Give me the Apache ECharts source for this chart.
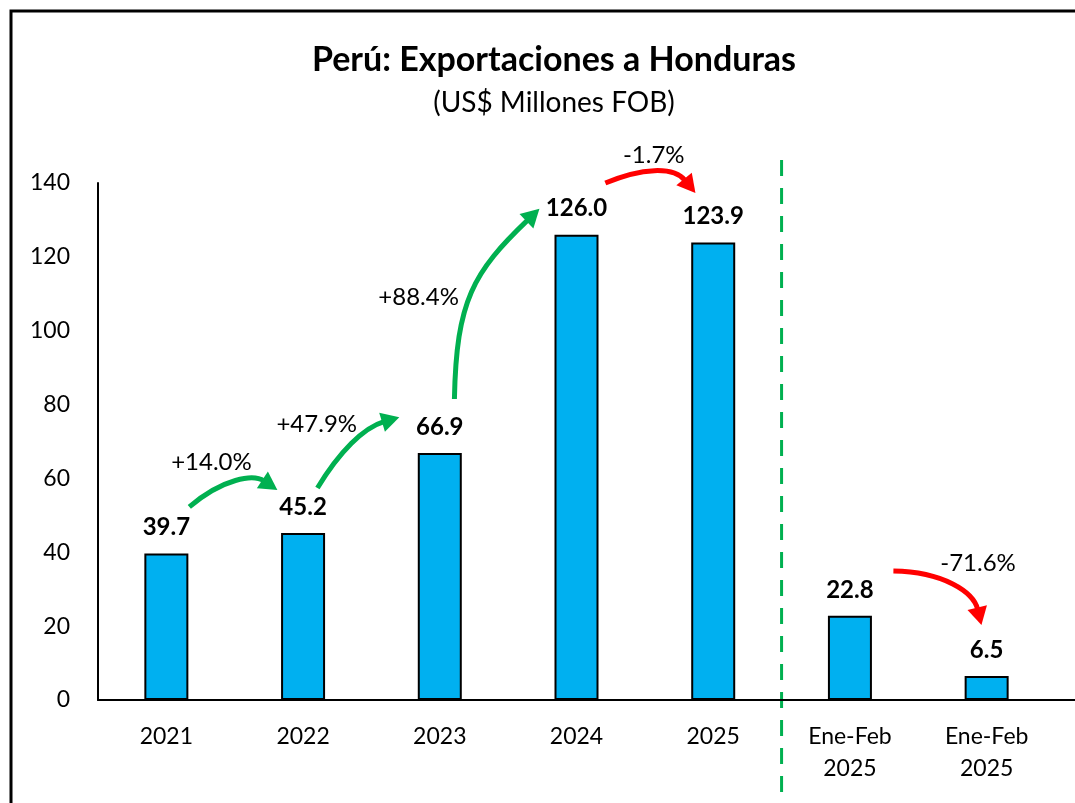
<!DOCTYPE html>
<html>
<head>
<meta charset="utf-8">
<script src="https://cdn.jsdelivr.net/npm/echarts@6/dist/echarts.min.js"></script>
<style>
html, body { margin: 0; padding: 0; background: #fff; }
#chart { width: 1075px; height: 803px; }
</style>
</head>
<body>
<div id="chart"></div>
<script>
// Perú: Exportaciones a Honduras (US$ Millones FOB)
var categories = ['2021', '2022', '2023', '2024', '2025', 'Ene-Feb\n2025', 'Ene-Feb\n2025'];
var values = [39.7, 45.2, 66.9, 126.0, 123.9, 22.8, 6.5];
var yMin = 0, yMax = 140, yStep = 20;

// variation arrows, in data space: [categoryIndex, value] for start, control 1, control 2, end
var changeLabels = ['+14.0%', '+47.9%', '+88.4%', '-1.7%', '-71.6%'];
var changeLabelAt = [[0.33, 64.4], [1.10, 74.7], [1.845, 109.1], [3.565, 147.6], [5.937, 37.1]];
var arrowPaths = [
    [[0.168, 52.3], [0.417, 60.1], [0.637, 61.2], [0.812, 56.9]],
    [[1.105, 57.4], [1.266, 67.2], [1.441, 73.7], [1.704, 76.6]],
    [[2.107, 81.5], [2.121, 108.3], [2.246, 115.9], [2.729, 133.0]],
    [[3.211, 140.0], [3.475, 144.1], [3.709, 144.6], [3.870, 137.3]],
    [[5.318, 34.9], [5.684, 34.7], [5.904, 29.2], [5.962, 20.3]]
];
var arrowColors = ['#00B050', '#00B050', '#00B050', '#FF0000', '#FF0000'];

var font = 'Lato, "Open Sans", sans-serif';
var myChart = echarts.init(document.getElementById('chart'));

myChart.setOption({
    animation: false,
    title: {
        text: 'Perú: Exportaciones a Honduras',
        subtext: '(US$ Millones FOB)',
        left: 549,
        top: 38,
        textAlign: 'center',
        itemGap: 12,
        textStyle: { fontFamily: font, fontSize: 34, fontWeight: 'bold', color: '#000' },
        subtextStyle: { fontFamily: font, fontSize: 28, color: '#000' }
    },
    grid: { left: 98, right: 20, top: 183, bottom: 103, containLabel: false },
    xAxis: {
        type: 'category',
        data: categories,
        axisLine: { lineStyle: { color: '#000', width: 2 } },
        axisTick: { show: false },
        axisLabel: { fontFamily: font, fontSize: 23, color: '#000', lineHeight: 32, margin: 21 }
    },
    yAxis: {
        type: 'value',
        min: yMin,
        max: yMax,
        interval: yStep,
        axisLine: { show: true, lineStyle: { color: '#000', width: 2 } },
        axisTick: { show: false },
        splitLine: { show: false },
        axisLabel: { fontFamily: font, fontSize: 23, color: '#000', margin: 28 }
    },
    series: [{
        type: 'bar',
        data: values,
        barWidth: 44,
        itemStyle: { color: '#00B0F0', borderColor: '#000', borderWidth: 2 },
        label: {
            show: true,
            position: 'top',
            distance: 14,
            fontFamily: font,
            fontSize: 24,
            fontWeight: 'bold',
            color: '#000',
            formatter: function (p) { return p.value.toFixed(1) }
        }
    }]
});

// annotations positioned through the axes
function toPx(pt) {
    var x0 = myChart.convertToPixel({ xAxisIndex: 0 }, 0);
    var x1 = myChart.convertToPixel({ xAxisIndex: 0 }, 1);
    return [x0 + (x1 - x0) * pt[0], myChart.convertToPixel({ yAxisIndex: 0 }, pt[1])];
}

var graphics = [];
// outer frame
graphics.push({
    type: 'rect', silent: true,
    shape: { x: 11, y: 11, width: 1100, height: 850 },
    style: { fill: 'none', stroke: '#000', lineWidth: 3 }
});
// x axis line runs to the edge
var axisY = myChart.convertToPixel({ yAxisIndex: 0 }, 0);
var lastX = toPx([categories.length - 0.5, 0])[0];
graphics.push({
    type: 'line', silent: true,
    shape: { x1: lastX, y1: axisY, x2: 1075, y2: axisY },
    style: { stroke: '#000', lineWidth: 2 }
});
// dashed separator between annual and Ene-Feb bars
var sepX = toPx([4.5, 0])[0];
graphics.push({
    type: 'line', silent: true,
    shape: { x1: sepX, y1: 160, x2: sepX, y2: 792 },
    style: { stroke: '#00B050', lineWidth: 3, lineDash: [16, 12] }
});

arrowPaths.forEach(function (path, k) {
    var s = toPx(path[0]), c1 = toPx(path[1]), c2 = toPx(path[2]), e = toPx(path[3]);
    var dx = e[0] - c2[0], dy = e[1] - c2[1];
    var len = Math.sqrt(dx * dx + dy * dy);
    dx /= len; dy /= len;
    var headL = 18, headW = 10;
    var bx = e[0] - dx * headL, by = e[1] - dy * headL;
    graphics.push({
        type: 'bezierCurve', silent: true,
        shape: { x1: s[0], y1: s[1], cpx1: c1[0], cpy1: c1[1], cpx2: c2[0], cpy2: c2[1], x2: bx + dx * 2, y2: by + dy * 2 },
        style: { stroke: arrowColors[k], lineWidth: 5, fill: 'none' }
    });
    graphics.push({
        type: 'polygon', silent: true,
        shape: { points: [[e[0], e[1]], [bx - dy * headW, by + dx * headW], [bx + dy * headW, by - dx * headW]] },
        style: { fill: arrowColors[k] }
    });
    var lp = toPx(changeLabelAt[k]);
    graphics.push({
        type: 'text', silent: true,
        x: lp[0], y: lp[1],
        style: {
            text: changeLabels[k], fill: '#000',
            font: '24px ' + font,
            align: 'center', verticalAlign: 'middle'
        }
    });
});

myChart.setOption({ graphic: graphics });
</script>
</body>
</html>
